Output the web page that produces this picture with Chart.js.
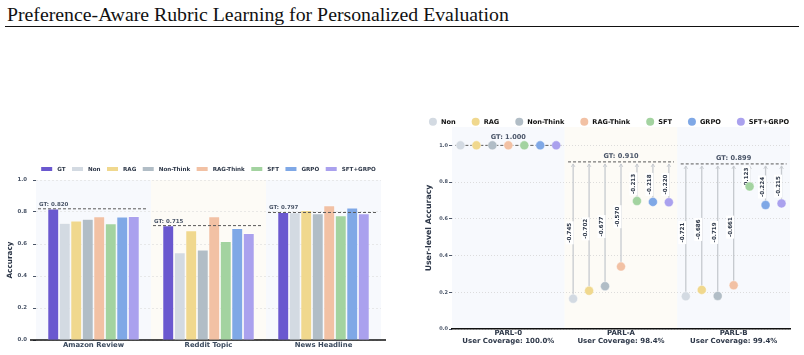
<!DOCTYPE html>
<html>
<head>
<meta charset="utf-8">
<script src="https://cdn.jsdelivr.net/npm/chart.js@4.4.1/dist/chart.umd.min.js"></script>
<style>
  html, body { margin: 0; padding: 0; background: #fff; width: 804px; height: 355px; overflow: hidden; }
  #title { position: absolute; left: 7px; top: 5px; font-family: 'Liberation Serif', 'Times New Roman', serif; font-size: 19.8px; line-height: 19px; color: #111; white-space: nowrap; }
  #rule { position: absolute; left: 5px; width: 794px; top: 26px; height: 0; border-top: 1.5px solid #111; }
  #leftBox { position: absolute; left: 0; top: 150px; }
  #rightBox { position: absolute; left: 400px; top: 100px; }
</style>
</head>
<body>
<div id="title">Preference-Aware Rubric Learning for Personalized Evaluation</div>
<div id="rule"></div>
<div id="leftBox"><canvas id="taskChart" width="400" height="205"></canvas></div>
<div id="rightBox"><canvas id="userChart" width="404" height="255"></canvas></div>
<script>
// --- task-level accuracy (left panel) ---
const TASKS = ['Amazon Review', 'Reddit Topic', 'News Headline'];
const METHODS = ['GT', 'Non', 'RAG', 'Non-Think', 'RAG-Think', 'SFT', 'GRPO', 'SFT+GRPO'];
const GT_ACC = [0.820, 0.715, 0.797];
const NON_ACC = [0.731, 0.546, 0.796];
const RAG_ACC = [0.744, 0.683, 0.810];
const NONTHINK_ACC = [0.756, 0.563, 0.790];
const RAGTHINK_ACC = [0.771, 0.771, 0.840];
const SFT_ACC = [0.727, 0.616, 0.777];
const GRPO_ACC = [0.769, 0.698, 0.825];
const SFTGRPO_ACC = [0.773, 0.667, 0.790];
const TASK_SERIES = [GT_ACC, NON_ACC, RAG_ACC, NONTHINK_ACC, RAGTHINK_ACC, SFT_ACC, GRPO_ACC, SFTGRPO_ACC];
const ACC_TICKS = [0, 0.2, 0.4, 0.6, 0.8, 1.0];

// --- user-level accuracy (right panel) ---
const PARL_SETS = ['PARL-0', 'PARL-A', 'PARL-B'];
const COVERAGE = ['100.0%', '98.4%', '99.4%'];
const GT_USER = [1.000, 0.910, 0.899];
const USER_METHODS = ['Non', 'RAG', 'Non-Think', 'RAG-Think', 'SFT', 'GRPO', 'SFT+GRPO'];
const NON_USER = [1.000, 0.165, 0.178];
const RAG_USER = [1.000, 0.208, 0.213];
const NONTHINK_USER = [1.000, 0.233, 0.180];
const RAGTHINK_USER = [1.000, 0.340, 0.238];
const SFT_USER = [1.000, 0.697, 0.776];
const GRPO_USER = [1.000, 0.692, 0.675];
const SFTGRPO_USER = [1.000, 0.690, 0.684];
const USER_SERIES = [NON_USER, RAG_USER, NONTHINK_USER, RAGTHINK_USER, SFT_USER, GRPO_USER, SFTGRPO_USER];

const COLORS = {
  'GT': '#6a58cf', 'Non': '#d3dae2', 'RAG': '#f0d88e', 'Non-Think': '#b1bdc6',
  'RAG-Think': '#f2c1a4', 'SFT': '#a3d3a0', 'GRPO': '#7fa8e6', 'SFT+GRPO': '#aaa1ee',
};
const BAND_COLORS = ['#f7f9fd', '#fdfbf6', '#f7f9fd'];
const FONT = 'DejaVu Sans';
const SLOT = 0.1416; // horizontal spacing between methods inside one PARL group

// shaded background per category
const bandPlugin = {
  id: 'bands',
  beforeDraw(chart, args, o) {
    const { ctx, chartArea: a, scales: { x } } = chart;
    ctx.save();
    o.colors.forEach((c, i) => {
      const l = x.getPixelForValue(i - 0.5), r = x.getPixelForValue(i + 0.5);
      ctx.fillStyle = c;
      ctx.fillRect(l, a.top, r - l, a.bottom - a.top);
    });
    ctx.restore();
  },
};

// legend row above the plot, drawn by hand so it can sit tight against the axes
const topLegend = {
  id: 'topLegend',
  afterDraw(chart, args, o) {
    const { ctx, chartArea: a } = chart;
    ctx.save();
    ctx.font = o.font; ctx.textBaseline = 'middle'; ctx.textAlign = 'left';
    const items = o.labels.map((t) => ({ t, w: o.markW + o.markGap + ctx.measureText(t).width }));
    const total = items.reduce((s, it) => s + it.w, 0) + o.itemGap * (items.length - 1);
    let xp = (a.left + a.right) / 2 + o.shift - total / 2;
    const yp = a.top + o.dy;
    items.forEach((it) => {
      ctx.fillStyle = COLORS[it.t];
      if (o.circle) { ctx.beginPath(); ctx.arc(xp + o.markW / 2, yp, o.markW / 2, 0, Math.PI * 2); ctx.fill(); }
      else ctx.fillRect(xp, yp - o.markH / 2, o.markW, o.markH);
      ctx.fillStyle = o.textColor;
      ctx.fillText(it.t, xp + o.markW + o.markGap, yp + 0.5);
      xp += it.w + o.itemGap;
    });
    ctx.restore();
  },
};

function dashedGT(ctx, l, r, py) {
  ctx.save();
  ctx.strokeStyle = '#5a5a5a'; ctx.lineWidth = 1; ctx.setLineDash([3, 2]);
  ctx.beginPath(); ctx.moveTo(l, py); ctx.lineTo(r, py); ctx.stroke();
  ctx.restore();
}

// left: GT reference lines + black baseline
const taskGT = {
  id: 'taskGT',
  beforeDatasetsDraw(chart) {
    const { ctx, chartArea: a, scales: { y } } = chart;
    const py = y.getPixelForValue(0);
    ctx.save();
    ctx.strokeStyle = '#111'; ctx.lineWidth = 1.5;
    ctx.beginPath(); ctx.moveTo(a.left - 6, py); ctx.lineTo(a.right + 5, py); ctx.stroke();
    ctx.restore();
  },
  afterDatasetsDraw(chart) {
    const { ctx, scales: { x, y } } = chart;
    GT_ACC.forEach((v, i) => {
      const l = x.getPixelForValue(i - 0.5) + 2, r = x.getPixelForValue(i + 0.5) - 3;
      const py = y.getPixelForValue(v);
      dashedGT(ctx, l, r, py);
      ctx.save();
      ctx.font = `bold 5.5px ${FONT}`; ctx.fillStyle = '#4a5568';
      ctx.textAlign = 'left'; ctx.textBaseline = 'alphabetic';
      ctx.fillText('GT: ' + v.toFixed(3), l + 1, py - 3);
      ctx.restore();
    });
  },
};

new Chart(document.getElementById('taskChart'), {
  type: 'bar',
  data: {
    labels: TASKS,
    datasets: METHODS.map((m, k) => ({
      label: m, data: TASK_SERIES[k], backgroundColor: COLORS[m],
      borderColor: 'rgba(255,255,255,0.85)', borderWidth: 0.6,
      barPercentage: 0.97, categoryPercentage: 0.8,
    })),
  },
  plugins: [bandPlugin, taskGT, topLegend],
  options: {
    responsive: false, animation: false,
    layout: { padding: { top: 30, right: 19, left: 0, bottom: 0 } },
    plugins: {
      legend: { display: false }, tooltip: { enabled: false },
      bands: { colors: BAND_COLORS },
      topLegend: { labels: METHODS, font: `bold 5.6px ${FONT}`, textColor: '#2d3748', markW: 11, markH: 4, markGap: 5, itemGap: 6.5, dy: -11, shift: 0, circle: false },
    },
    scales: {
      x: {
        grid: { display: false, drawTicks: false }, border: { display: false },
        ticks: { font: { family: FONT, size: 6.9, weight: 'bold' }, color: '#3b4a5e', padding: 1, maxRotation: 0 },
        afterFit: (s) => { s.height = 15; },
      },
      y: {
        min: 0, max: 1.0,
        afterBuildTicks: (s) => { s.ticks = ACC_TICKS.map((v) => ({ value: v })); },
        ticks: { callback: (v) => v.toFixed(1), font: { family: FONT, size: 5.4, weight: 'bold' }, color: '#4a5568', padding: 6 },
        grid: { color: '#dcdcdc', lineWidth: 0.6, tickColor: '#4a5568', tickLength: 3, tickWidth: 1 },
        border: { display: false, dash: [2, 2] },
        title: { display: true, text: 'Accuracy', font: { family: FONT, size: 7.3, weight: 'bold' }, color: '#2d3748', padding: { top: 5.5, bottom: 0 } },
        afterFit: (s) => { s.width = 36; },
      },
    },
  },
});

// right: GT lines, gap arrows with delta labels
const userGT = {
  id: 'userGT',
  beforeDatasetsDraw(chart) {
    const { ctx, scales: { x, y } } = chart;
    GT_USER.forEach((g, i) => {
      const py = y.getPixelForValue(g);
      const half = (x.getPixelForValue(1) - x.getPixelForValue(0)) * 0.47;
      const cx = x.getPixelForValue(i);
      const onLine = USER_SERIES.some((s) => Math.abs(s[i] - g) < 0.0005);
      dashedGT(ctx, cx - half, cx + half, py);
      ctx.save();
      ctx.font = `bold 6.6px ${FONT}`; ctx.fillStyle = '#4a5568';
      ctx.textAlign = 'center'; ctx.textBaseline = 'alphabetic';
      ctx.fillText('GT: ' + g.toFixed(3), cx, py - (onLine ? 6.5 : 4));
      ctx.restore();

      USER_SERIES.forEach((series, j) => {
        const v = series[i];
        const gap = v - g;
        if (Math.abs(gap) < 0.0005) return;
        const px = x.getPixelForValue(i + (j - 3) * SLOT);
        const top = py + 2, bot = y.getPixelForValue(v);
        ctx.save();
        ctx.strokeStyle = '#c6cacf'; ctx.lineWidth = 1.3;
        ctx.beginPath(); ctx.moveTo(px, bot); ctx.lineTo(px, top); ctx.stroke();
        ctx.lineWidth = 0.9;
        ctx.beginPath(); ctx.moveTo(px - 1.8, top + 3); ctx.lineTo(px, top); ctx.lineTo(px + 1.8, top + 3); ctx.stroke();
        // delta label, rotated, on a white box
        const txt = gap.toFixed(3);
        ctx.font = `bold 5.6px ${FONT}`;
        const w = ctx.measureText(txt).width;
        ctx.translate(px - 3.5, (top + bot) / 2 + 1.5);
        ctx.rotate(-Math.PI / 2);
        ctx.fillStyle = '#fff';
        ctx.fillRect(-w / 2 - 1.5, -4, w + 3, 8);
        ctx.fillStyle = '#2d3748'; ctx.textAlign = 'center'; ctx.textBaseline = 'middle';
        ctx.fillText(txt, 0, 0.3);
        ctx.restore();
      });
    });
  },
};

new Chart(document.getElementById('userChart'), {
  type: 'scatter',
  data: {
    datasets: USER_METHODS.map((m, j) => ({
      label: m,
      data: PARL_SETS.map((_, i) => ({ x: i + (j - 3) * SLOT, y: USER_SERIES[j][i] })),
      backgroundColor: COLORS[m], borderColor: 'rgba(255,255,255,0.7)', borderWidth: 0.6,
      pointRadius: 4.5,
    })),
  },
  plugins: [bandPlugin, userGT, topLegend],
  options: {
    responsive: false, animation: false,
    layout: { padding: { top: 27, right: 14, left: 0, bottom: 0 } },
    plugins: {
      legend: { display: false }, tooltip: { enabled: false },
      bands: { colors: BAND_COLORS },
      topLegend: { labels: USER_METHODS, font: `bold 6.6px ${FONT}`, textColor: '#111', markW: 8, markH: 8, markGap: 4, itemGap: 16, dy: -5.3, shift: -12, circle: true },
    },
    scales: {
      x: {
        type: 'linear', min: -0.5, max: 2.5,
        afterBuildTicks: (s) => { s.ticks = PARL_SETS.map((_, i) => ({ value: i })); },
        grid: { display: false, drawTicks: false },
        border: { display: true, color: '#111', width: 1.5 },
        ticks: {
          autoSkip: false, maxRotation: 0, padding: 0,
          callback: (v) => [PARL_SETS[v], 'User Coverage: ' + COVERAGE[v]],
          font: { family: FONT, size: 7, weight: 'bold', lineHeight: 1.2 }, color: '#2d3748',
        },
        afterFit: (s) => { s.height = 26; },
      },
      y: {
        min: 0, max: 1.1,
        afterBuildTicks: (s) => { s.ticks = ACC_TICKS.map((v) => ({ value: v })); },
        ticks: { callback: (v) => v.toFixed(1), font: { family: FONT, size: 5, weight: 'bold' }, color: '#4a5568', padding: 1 },
        grid: { color: '#d4d4d4', lineWidth: 0.8, tickColor: '#4a5568', tickLength: 3, tickWidth: 1 },
        border: { display: false, dash: [1, 2] },
        title: { display: true, text: 'User-level Accuracy', font: { family: FONT, size: 7.8, weight: 'bold' }, color: '#2d3748', padding: { top: 23.8, bottom: 0 } },
        afterFit: (s) => { s.width = 52; },
      },
    },
  },
});
</script>
</body>
</html>
